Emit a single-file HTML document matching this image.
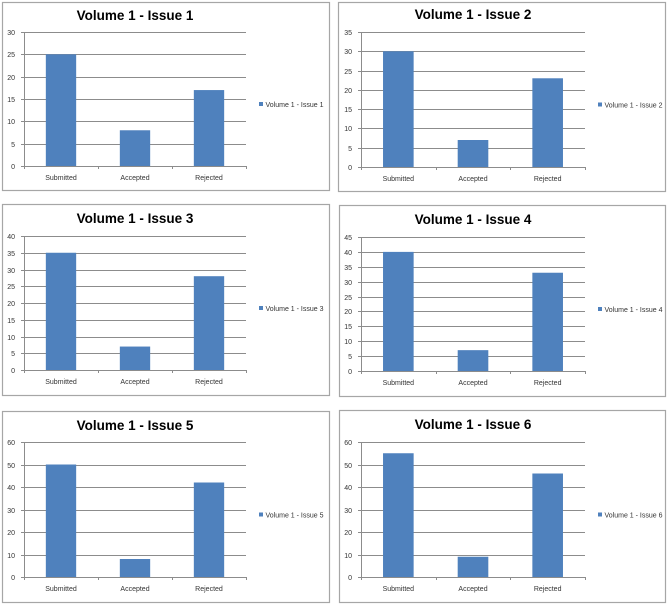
<!DOCTYPE html>
<html><head><meta charset="utf-8"><style>
html,body{margin:0;padding:0;background:#fff;}
svg{display:block;font-family:"Liberation Sans",sans-serif;}
</style></head><body>
<svg id="chart" width="668" height="604" viewBox="0 0 668 604"></svg>
<script>
const categories = ["Submitted","Accepted","Rejected"];
const titles = ["Volume 1 - Issue 1","Volume 1 - Issue 2","Volume 1 - Issue 3","Volume 1 - Issue 4","Volume 1 - Issue 5","Volume 1 - Issue 6"];
const series1 = [25,8,17];
const series2 = [30,7,23];
const series3 = [35,7,28];
const series4 = [40,7,33];
const series5 = [50,8,42];
const series6 = [55,9,46];
const axisMax = [30,35,40,45,60,60];
const axisStep = [5,5,5,5,10,10];

const allSeries = [series1,series2,series3,series4,series5,series6];
// layout: panel box & plot area
const layout = [
 {px:2,py:2,pw:327,ph:188,l:24,r:246,t:32,b:166,ty:15},
 {px:338,py:2,pw:327,ph:189,l:361,r:585,t:32,b:167,ty:14},
 {px:2,py:204,pw:327,ph:191,l:24,r:246,t:236,b:370,ty:218},
 {px:339,py:205,pw:326,ph:191,l:361,r:585,t:237,b:371,ty:219},
 {px:2,py:411,pw:327,ph:191,l:24,r:246,t:442,b:577,ty:425},
 {px:339,py:410,pw:326,ph:192,l:361,r:585,t:442,b:577,ty:424}
];
const NS="http://www.w3.org/2000/svg";
const svg=document.getElementById('chart');
function mk(tag,attrs,parent){const e=document.createElementNS(NS,tag);for(const k in attrs)e.setAttribute(k,attrs[k]);parent.appendChild(e);return e;}

allSeries.forEach((vals,i)=>{
  const L=layout[i];
  const g=mk('g',{},svg);
  
  
  const box=mk('rect',{x:L.px+0.5,y:L.py+0.5,width:L.pw,height:L.ph,fill:'#fff',stroke:'#a6a6a6','stroke-width':1.2},g);
  
  
  const yS=v=>L.b-(v/axisMax[i])*(L.b-L.t);
  const cw=(L.r-L.l)/categories.length;
  const xS=k=>L.l+cw*(k+0.5);
  const t=mk('text',{x:(L.l+L.r)/2,y:L.ty+5,'text-anchor':'middle','font-size':13.5,'font-weight':'bold',fill:'#000'},g);
  t.textContent=titles[i];
  
  
  for(let v=0;v<=axisMax[i];v+=axisStep[i]){
    const y=Math.round(yS(v))+0.5;
    if(v>0){const gl=mk('line',{x1:L.l,x2:L.r,y1:y,y2:y,stroke:'#8c8c8c','stroke-width':1},g);
      
      }
    mk('line',{x1:L.l-3,x2:L.l,y1:y,y2:y,stroke:'#8c8c8c'},g);
    const tl=mk('text',{x:L.l-9,y:y+2.5,'text-anchor':'end','font-size':7,fill:'#333'},g);
    tl.textContent=v;
    
    
  }
  const ax=mk('line',{x1:L.l+0.5,x2:L.l+0.5,y1:L.t,y2:L.b,stroke:'#8c8c8c'},g);
  
  
  const xa=mk('line',{x1:L.l,x2:L.r,y1:Math.round(L.b)+0.5,y2:Math.round(L.b)+0.5,stroke:'#8c8c8c'},g);
  
  
  for(let k=0;k<=categories.length;k++){
    const x=Math.round(L.l+cw*k)+0.5;
    mk('line',{x1:x,x2:x,y1:L.b,y2:L.b+3,stroke:'#8c8c8c'},g);
  }
  const bw=cw*0.41;
  vals.forEach((v,k)=>{
    const b=mk('rect',{x:xS(k)-bw/2,y:yS(v),width:bw,height:L.b-yS(v),fill:'#4f81bd'},g);
    
    
    const cl=mk('text',{x:xS(k),y:L.b+14,'text-anchor':'middle','font-size':7,fill:'#333'},g);
    cl.textContent=categories[k];
    
    
  });
  const ly=(L.t+L.b)/2+8;
  const lg=mk('g',{},g);
  
  
  mk('rect',{x:L.r+13,y:ly-5,width:4,height:4,fill:'#4f81bd'},lg);
  const lt=mk('text',{x:L.r+19.5,y:ly,'font-size':7,fill:'#333'},lg);
  lt.textContent=titles[i];
});
</script>
</body></html>
